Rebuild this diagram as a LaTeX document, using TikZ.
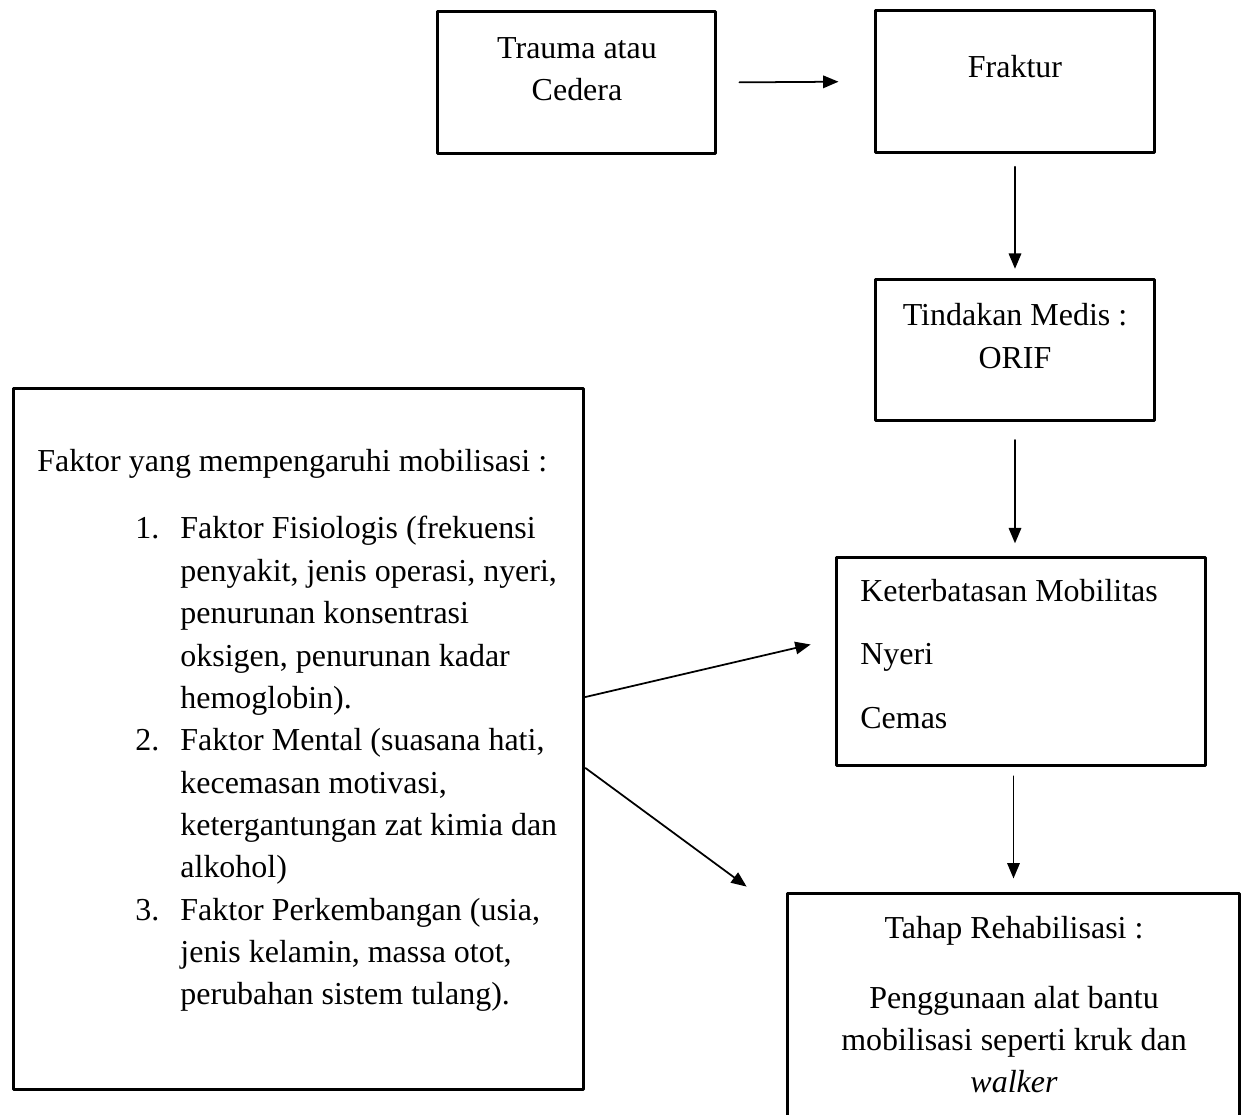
\documentclass[tikz,border=0pt]{standalone}
\usepackage{fontspec}
\setmainfont{Liberation Serif}
\usetikzlibrary{arrows}
\usetikzlibrary{calc}

\begin{document}
\begin{tikzpicture}[line cap=round,line join=round,>=triangle 45,x=0.02cm,y=-0.02cm,
    box/.style={draw,line width=1.7pt,inner sep=0pt},
    txt/.style={font=\fontsize{18.2}{24.1}\selectfont,align=center,inner sep=0pt},
    link/.style={->,line width=1pt}]
      \useasboundingbox (0,0) rectangle (1242,1115);
      \node[box,minimum width=5.58cm,minimum height=2.86cm] (trauma) at (576.5,82.5) {};
      \node[box,minimum width=5.6cm,minimum height=2.86cm] (fraktur) at (1015,81.5) {};
      \node[box,minimum width=5.6cm,minimum height=2.84cm] (tindakan) at (1015,350) {};
      \node[box,minimum width=7.4cm,minimum height=4.18cm] (keterbatasan) at (1021,661.5) {};
      \node[box,minimum width=9.06cm,minimum height=4.84cm] (tahap) at (1013.5,1014) {};
      \node[box,minimum width=11.42cm,minimum height=14.04cm] (faktor) at (298.5,739) {};
      \node[txt] (trauma-txt) at (577,69) {Trauma atau\\Cedera};
      \node[txt] (fraktur-txt) at (1015,67) {Fraktur};
      \node[txt] (tindakan-txt) at (1015,336) {Tindakan Medis :\\ORIF};
      \node[txt,align=left,anchor=west,font=\fontsize{18.2}{35.9}\selectfont] (keterbatasan-txt) at (860,654) {Keterbatasan Mobilitas\\Nyeri\\Cemas};
      \node[txt] (tahap-txt) at (1014,1005) {Tahap Rehabilisasi :\\[15.4pt]Penggunaan alat bantu\\mobilisasi seperti kruk dan\\\textit{walker}};
      \node[txt,anchor=west] (faktor-judul) at (37,464) {Faktor yang mempengaruhi mobilisasi :};
      \node[txt,align=left,anchor=north west] (faktor-list) at (135,509) {%
        \begin{tabular}[t]{@{}l@{\hspace{12pt}}l@{}}
          1. & Faktor Fisiologis (frekuensi\\
             & penyakit, jenis operasi, nyeri,\\
             & penurunan konsentrasi\\
             & oksigen, penurunan kadar\\
             & hemoglobin).\\
          2. & Faktor Mental (suasana hati,\\
             & kecemasan motivasi,\\
             & ketergantungan zat kimia dan\\
             & alkohol)\\
          3. & Faktor Perkembangan (usia,\\
             & jenis kelamin, massa otot,\\
             & perubahan sistem tulang).
        \end{tabular}};
      \draw[link,shorten <=12.5pt,shorten >=20pt] (trauma.east) -- (fraktur.west);
      \draw[link,shorten <=7pt,shorten >=5pt] (fraktur.south) -- (tindakan.north);
      \draw[link,shorten <=10pt,shorten >=7pt] (tindakan.south) -- (tindakan.south |- keterbatasan.north);
      \draw[link,shorten <=5pt,shorten >=7.5pt] (keterbatasan.south -| tahap.north) -- (tahap.north);
      \draw[link] ($(faktor.east)+(0,-42)$) -- ($(keterbatasan.west)+(-24,-17)$);
      \draw[link] ($(faktor.east)+(0,29)$) -- ($(tahap.north west)+(-39,-5)$);
\end{tikzpicture}
\end{document}
